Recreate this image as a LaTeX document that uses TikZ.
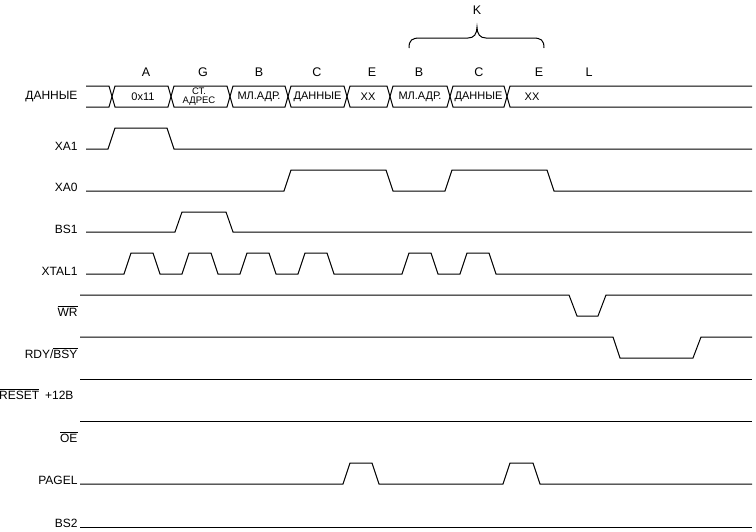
\documentclass[tikz,border=0pt]{standalone}
\usepackage{fontspec}
\setmainfont{Liberation Sans}

\begin{document}
\begin{tikzpicture}[x=1pt, y=-1pt, line width=1pt,
    signame/.style={anchor=east, inner sep=0pt, font=\fontsize{12}{14}\selectfont},
    phase/.style={inner sep=0pt, font=\fontsize{12.5}{14}\selectfont},
    bustext/.style={inner sep=0pt, font=\fontsize{11}{13}\selectfont}]
            \useasboundingbox (0,0) rectangle (756,531);

            \node[phase] (k) at (477,10) {K};
            \draw (409,48) .. controls (409,40) and (412,38) .. (420,38) -- (468,38)
                .. controls (474,38) and (477,34) .. (477,27)
                .. controls (477,34) and (480,38) .. (486,38) -- (533,38)
                .. controls (541,38) and (544,40) .. (544,48);

            \node[phase] (pa) at (146,72) {A};
            \node[phase] (pg) at (203,72) {G};
            \node[phase] (pb1) at (259,72) {B};
            \node[phase] (pc1) at (317,72) {C};
            \node[phase] (pe1) at (372,72) {E};
            \node[phase] (pb2) at (419,72) {B};
            \node[phase] (pc2) at (479,72) {C};
            \node[phase] (pe2) at (539,72) {E};
            \node[phase] (pl) at (589,72) {L};

            \node[signame] (ldata) at (78,97) {ДАННЫЕ};
            \node[signame] (lxa1) at (78,146) {XA1};
            \node[signame] (lxa0) at (78,187) {XA0};
            \node[signame] (lbs1) at (78,229) {BS1};
            \node[signame] (lxtal) at (78,271) {XTAL1};
            \node[signame] (lwr) at (78,311) {$\overline{\mbox{WR}}$};
            \node[signame] (lrdy) at (78,353) {RDY/$\overline{\mbox{BSY}}$};
            \node[signame] (lreset) at (74,394) {$\overline{\mbox{RESET}}$\hspace{6pt}+12В};
            \node[signame] (loe) at (78,437) {$\overline{\mbox{OE}}$};
            \node[signame] (lpagel) at (78,480) {PAGEL};
            \node[signame] (lbs2) at (78,523) {BS2};

            \draw (86,86) -- (109,86) -- (112,96.5) -- (109,107) -- (86,107);
            \foreach \a/\b in {112/171, 171/230, 230/288, 288/347, 347/390, 390/450, 450/507}
                \draw (\a,96.5) -- (\a+3,86) -- (\b-3,86) -- (\b,96.5) -- (\b-3,107) -- (\a+3,107) -- cycle;
            \draw (752,86) -- (510,86) -- (507,96.5) -- (510,107) -- (752,107);

            \node[bustext] (d1) at (143,96.5) {0x11};
            \node[bustext, align=center, font=\fontsize{9.5}{9.5}\selectfont] (d2) at (199,96.5) {СТ.\\АДРЕС};
            \node[bustext] (d3) at (259,96.5) {МЛ.АДР.};
            \node[bustext] (d4) at (317.5,96.5) {ДАННЫЕ};
            \node[bustext] (d5) at (368,96.5) {XX};
            \node[bustext] (d6) at (420,96.5) {МЛ.АДР.};
            \node[bustext] (d7) at (478.5,96.5) {ДАННЫЕ};
            \node[bustext] (d8) at (532,96.5) {XX};

            \draw (86,149) -- (108,149) -- (115,128) -- (167,128) -- (174,149) -- (752,149);
            \draw (86,191) -- (284,191) -- (291,170) -- (386,170) -- (393,191) -- (445,191)
                -- (452,170) -- (547,170) -- (554,191) -- (752,191);
            \draw (86,232) -- (175,232) -- (182,212) -- (226,212) -- (233,232) -- (752,232);
            \draw (86,274) \foreach \r in {124,182,240,298,402,460} {
                -- (\r,274) -- (\r+7,253) -- (\r+29,253) -- (\r+36,274)} -- (752,274);
            \draw (80,295) -- (569,295) -- (577,316) -- (598,316) -- (606,295) -- (752,295);
            \draw (80,337) -- (613,337) -- (620,358) -- (693,358) -- (701,337) -- (752,337);
            \draw (80,379) -- (752,379);
            \draw (80,421) -- (752,421);
            \draw (80,484) -- (343,484) -- (350,463) -- (372,463) -- (379,484) -- (503,484)
                -- (510,463) -- (533,463) -- (540,484) -- (752,484);
            \draw (80,527) -- (752,527);
        \end{tikzpicture}
\end{document}
